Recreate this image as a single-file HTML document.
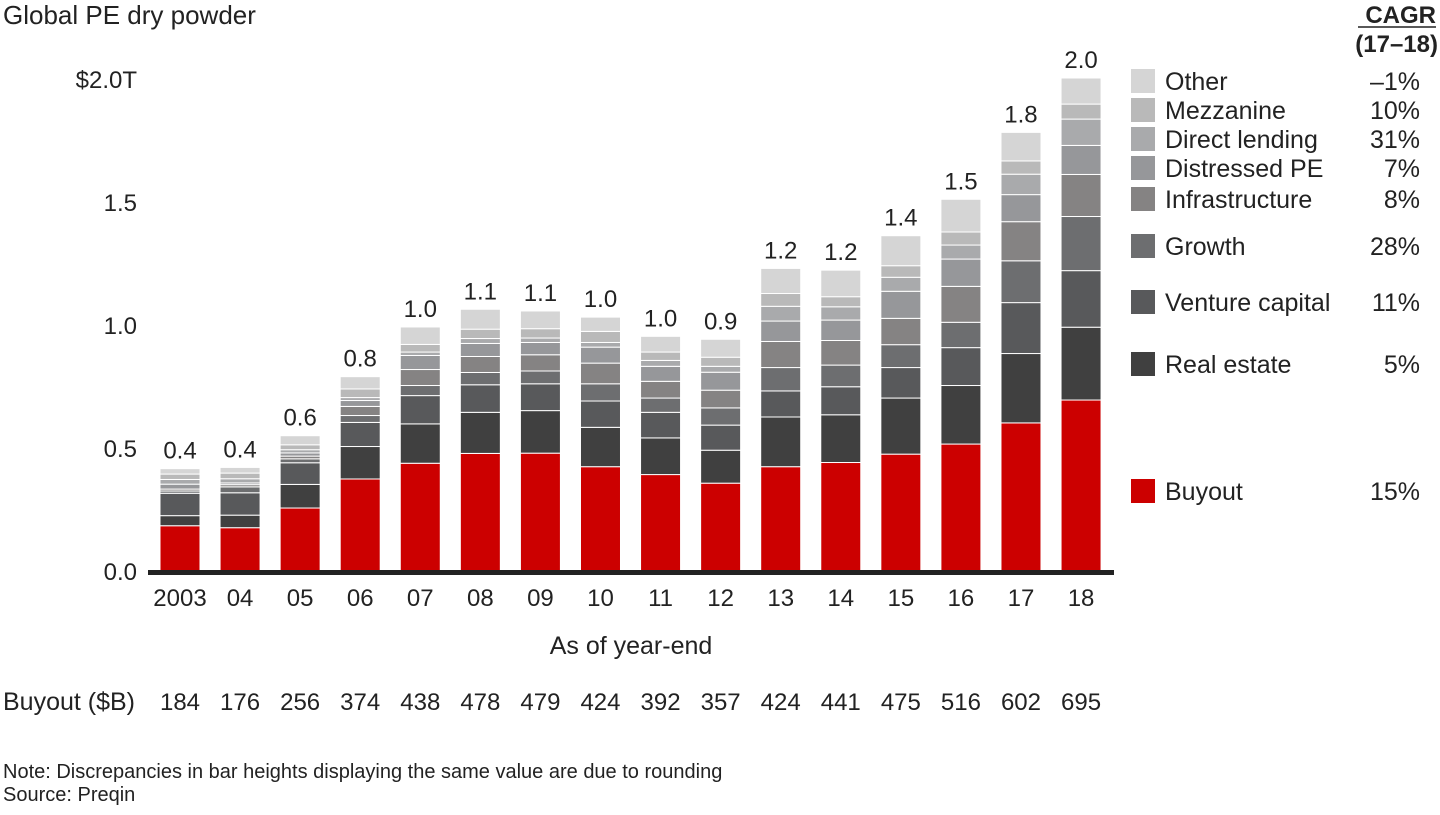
<!DOCTYPE html>
<html><head><meta charset="utf-8">
<style>
body{margin:0;background:#fff;width:1440px;height:810px;overflow:hidden;font-family:"Liberation Sans",Arial,sans-serif;}
svg text{font-family:"Liberation Sans",Arial,sans-serif;fill:#222;}
</style></head>
<body>
<svg id="chart" width="1440" height="810" viewBox="0 0 1440 810" xmlns="http://www.w3.org/2000/svg">
<text x="3" y="24" font-size="26">Global PE dry powder</text>
<g id="yaxis"></g>
<g id="bars"></g>
<rect x="148" y="570" width="966" height="5" fill="#222"/>
<g id="xlabels"></g>
<text x="631" y="654" font-size="25" text-anchor="middle">As of year-end</text>
<text x="3" y="710" font-size="25">Buyout ($B)</text>
<g id="buyrow"></g>
<g id="legend"></g>
<text x="1436" y="23" font-size="24" font-weight="bold" text-anchor="end">CAGR</text>
<line x1="1358" y1="27" x2="1436" y2="27" stroke="#222" stroke-width="1.5"/>
<text x="1438" y="52" font-size="24" font-weight="bold" text-anchor="end">(17–18)</text>
<text x="3" y="778" font-size="20">Note: Discrepancies in bar heights displaying the same value are due to rounding</text>
<text x="3" y="801" font-size="20">Source: Preqin</text>
</svg>
<script>
const years = ["2003","04","05","06","07","08","09","10","11","12","13","14","15","16","17","18"];
const totalLabels = ["0.4","0.4","0.6","0.8","1.0","1.1","1.1","1.0","1.0","0.9","1.2","1.2","1.4","1.5","1.8","2.0"];
const buyout = [184,176,256,374,438,478,479,424,392,357,424,441,475,516,602,695];
const realEstate = [41,51,96,132,160,167,173,160,149,134,202,194,228,238,282,296];
const ventureCapital = [91,91,88,98,115,112,109,107,104,102,106,114,124,154,207,230];
const growth = [9,24,16,28,41,50,52,70,58,70,95,88,93,103,170,220];
const infrastructure = [8,9,11,37,65,65,66,84,68,72,106,100,107,146,159,171];
const distressed = [20,7,13,24,57,53,50,65,61,73,83,83,110,111,110,118];
const directLending = [19,17,13,12,14,20,18,19,24,24,60,54,57,57,83,107];
const mezzanine = [22,23,20,35,31,38,38,45,34,37,52,41,47,53,54,61];
const other = [22,23,37,50,71,81,72,58,64,73,102,108,122,133,116,106];
const seriesNames = ["Buyout","Real estate","Venture capital","Growth","Infrastructure","Distressed PE","Direct lending","Mezzanine","Other"];
const cagr = ["15%","5%","11%","28%","8%","7%","31%","10%","–1%"];
const yTicks = [0,0.5,1.0,1.5,2.0];
const yTickLabels = ["0.0","0.5","1.0","1.5","$2.0T"];

const series=[buyout,realEstate,ventureCapital,growth,infrastructure,distressed,directLending,mezzanine,other];
const colors=["#cc0000","#404040","#58595b","#6d6e70","#858383","#96979a","#a9aaac","#b9b9b9","#d5d5d5"];
const legendY=[491,364,302,246,199,168,139,110,81];
const NS="http://www.w3.org/2000/svg";
const base=571, scale=246;
const y=v=>base-v/1000*scale;
const xC=i=>180+60.07*i;
const bw=40;
function mk(tag,attrs,parent,txt){const e=document.createElementNS(NS,tag);for(const k in attrs)e.setAttribute(k,attrs[k]);if(txt!==undefined)e.textContent=txt;parent.appendChild(e);return e;}
const gy=document.getElementById('yaxis');
yTicks.forEach((t,i)=>{
  const e=mk('text',{x:137,y:base-t*scale+9,'font-size':24,'text-anchor':'end'},gy,yTickLabels[i]);
  
  
});
const gb=document.getElementById('bars');
const gx=document.getElementById('xlabels');
const gr=document.getElementById('buyrow');
years.forEach((yr,i)=>{
  let cum=0;
  series.forEach((s,k)=>{
    const v=s[i];
    const r=mk('rect',{x:xC(i)-bw/2,y:y(cum+v),width:bw,height:Math.max(0,y(cum)-y(cum+v)),fill:colors[k],stroke:'#fff','stroke-width':1},gb);
    
    
    cum+=v;
  });
  const t=mk('text',{x:xC(i),y:y(cum)-10,'font-size':24,'text-anchor':'middle'},gb,totalLabels[i]);
  
  
  const xl=mk('text',{x:xC(i),y:606,'font-size':24,'text-anchor':'middle'},gx,yr);
  
  
  const bl=mk('text',{x:xC(i),y:710,'font-size':24,'text-anchor':'middle'},gr,String(buyout[i]));
  
  
});
const gl=document.getElementById('legend');
seriesNames.forEach((n,k)=>{
  const sw=mk('rect',{x:1131,y:legendY[k]-12,width:24,height:24,fill:colors[k]},gl);
  
  
  const lt=mk('text',{x:1165,y:legendY[k]+9,'font-size':25},gl,n);
  
  
  const ct=mk('text',{x:1420,y:legendY[k]+9,'font-size':25,'text-anchor':'end'},gl,cagr[k]);
  
  
});
</script>
</body></html>
